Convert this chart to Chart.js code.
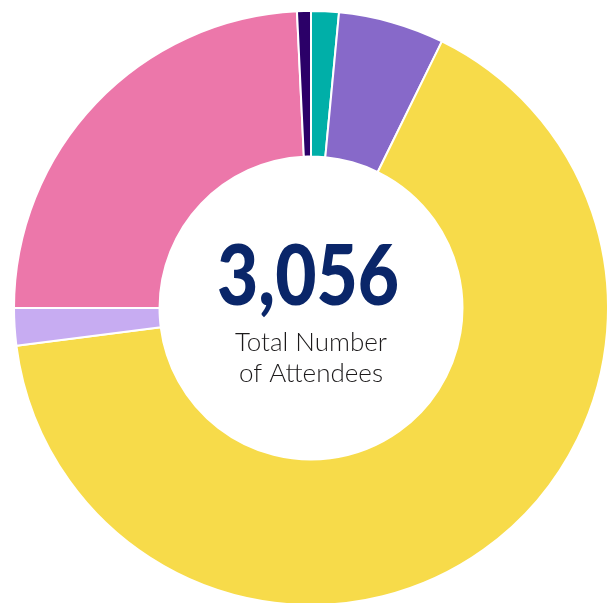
<!DOCTYPE html>
<html>
<head>
<meta charset="utf-8">
<script src="https://cdn.jsdelivr.net/npm/chart.js@4.4.1/dist/chart.umd.min.js"></script>
<style>
  html, body { margin: 0; padding: 0; background: #fff; overflow: hidden; }
  #wrap { position: absolute; left: 13px; top: 10px; width: 596px; height: 596px; }
</style>
</head>
<body>
<div id="wrap"><canvas id="chart_attendees"></canvas></div>
<script>
// segments clockwise from 12 o'clock
var categories = ['Teal', 'Purple', 'Yellow', 'Lavender', 'Pink', 'Navy'];
var attendees = [46, 176, 2008, 62, 741, 23];
var segmentColors = ['#00afa8', '#8769c9', '#f7db4a', '#c7acf2', '#ec77aa', '#2b0068'];
var totalLabel = '3,056';
var subtitleLines = ['Total Number', 'of Attendees'];

var centerText = {
    id: 'centerText',
    afterDraw: (chart) => {
        const ctx = chart.ctx;
        const arc = chart.getDatasetMeta(0).data[0];
        const cx = arc.x, cy = arc.y;
        ctx.save();
        ctx.textAlign = 'center';
        ctx.textBaseline = 'alphabetic';
        ctx.fillStyle = '#0a2669';
        ctx.font = '900 84px Lato';
        ctx.fillText(totalLabel, cx - 3, cy - 3, 182);
        ctx.fillStyle = '#1c1a1b';
        ctx.font = '300 26px Lato';
        ctx.fillText(subtitleLines[0], cx, cy + 43, 154);
        ctx.fillText(subtitleLines[1], cx, cy + 74, 154);
        ctx.restore();
    }
};

var chart_attendees = new Chart(document.getElementById('chart_attendees'), {
    type: 'doughnut',
    data: {
        labels: categories,
        datasets: [{
            data: attendees,
            backgroundColor: segmentColors,
            borderColor: '#ffffff',
            borderWidth: 2,
            hoverOffset: 0
        }]
    },
    options: {
        animation: false,
        responsive: true,
        maintainAspectRatio: false,
        cutout: '51%',
        layout: { padding: 0 },
        plugins: {
            legend: { display: false },
            tooltip: { enabled: false }
        }
    },
    plugins: [centerText]
});
</script>
</body>
</html>
